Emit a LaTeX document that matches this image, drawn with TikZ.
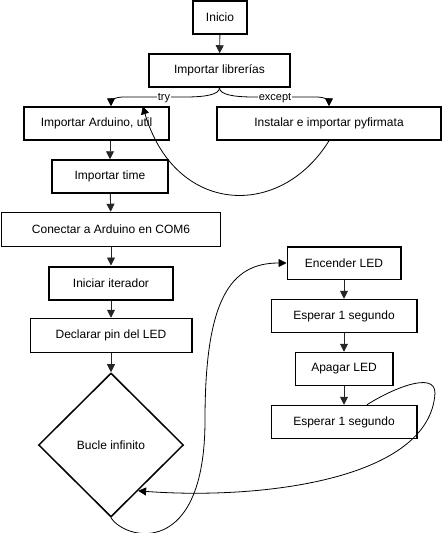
\documentclass[tikz,border=0pt]{standalone}
\usepackage{fontspec}
\setmainfont{Liberation Sans}
\usetikzlibrary{arrows.meta,shapes.geometric,calc}
\begin{document}
\begin{tikzpicture}[x=1pt,y=-1pt,
  box/.style={draw=black,line width=1.5pt,fill=white,inner sep=0pt,minimum height=33pt,font=\fontsize{12}{14}\selectfont},
  thickbox/.style={box,line width=2pt},
  conn/.style={draw=black!85,line width=0.9pt,-{Triangle[width=8pt,length=8pt]}},
  curv/.style={draw=black,line width=0.8pt,-{Triangle[width=8pt,length=8pt]}},
  lbl/.style={fill=white,inner sep=1pt,font=\fontsize{11}{13}\selectfont}]
\useasboundingbox (0,0) rectangle (442,533);
% left column
\node[thickbox,minimum width=54pt] (inicio) at (220,17.5) {Inicio};
\node[box,minimum width=141pt] (lib) at (219.5,70.5) {Importar librerías};
\node[box,minimum width=145pt] (ard) at (96.5,123.5) {Importar Arduino, util};
\node[box,minimum width=224pt] (pyf) at (329,123.5) {Instalar e importar pyfirmata};
\node[box,minimum width=116pt] (time) at (110,176.5) {Importar time};
\node[box,minimum width=219pt,minimum height=34pt] (con) at (111,229.5) {Conectar a Arduino en COM6};
\node[thickbox,minimum width=124.5pt] (iter) at (111,283) {Iniciar iterador};
\node[box,minimum width=161.5pt,minimum height=34pt] (pin) at (111,335.5) {Declarar pin del LED};
\node[box,diamond,aspect=1,minimum width=145pt,minimum height=144pt] (bucle) at (111,445) {Bucle infinito};
% right column
\node[box,minimum width=113.5pt,minimum height=32.5pt] (enc) at (344,263) {Encender LED};
\node[box,minimum width=145.5pt] (esp1) at (344,316) {Esperar 1 segundo};
\node[box,minimum width=97.5pt] (apa) at (344,369) {Apagar LED};
\node[box,minimum width=145.5pt] (esp2) at (344,422) {Esperar 1 segundo};
% straight connectors
\draw[conn] (inicio) -- (lib);
\draw[conn] (ard.south -| time.north) -- (time.north);
\draw[conn] (time) -- (con);
\draw[conn] (con) -- (iter);
\draw[conn] (iter) -- (pin);
\draw[conn] (pin) -- (bucle);
\draw[conn] (enc) -- (esp1);
\draw[conn] (esp1) -- (apa);
\draw[conn] (apa) -- (esp2);
% try / except
\draw[curv] (lib.south) .. controls +(0,7) and (205,97) .. (185,97) -- (122,97) to[out=180,in=90] (ard.north -| 111,0);
\draw[curv] (lib.south) .. controls +(0,7) and (234,97) .. (254,97) -- (318,97) to[out=0,in=90] (pyf.north);
\node[lbl] (try) at (164,98) {try};
\node[lbl] (exc) at (275,98) {except};
% pyfirmata back to Arduino
\coordinate (ardin) at ($(ard.north east)+(-27,0)$);
\draw[curv] (pyf.south) .. controls (280,220) and (175,215) .. (ardin);
% loop into Encender LED
\draw[curv] (bucle.south) .. controls (125,540) and (205,560) .. (205,420) .. controls (205,300) and (230,263) .. (enc.west);
% back from Esperar to the loop
\coordinate (espout) at ($(esp2.north)+(23,0)$);
\coordinate (bucin) at ($(bucle.east)!0.63!(bucle.south)$);
\draw[curv] (espout) .. controls (390,390) and (435,370) .. (435,393) .. controls (430,480) and (260,500) .. (bucin);
\end{tikzpicture}
\end{document}
